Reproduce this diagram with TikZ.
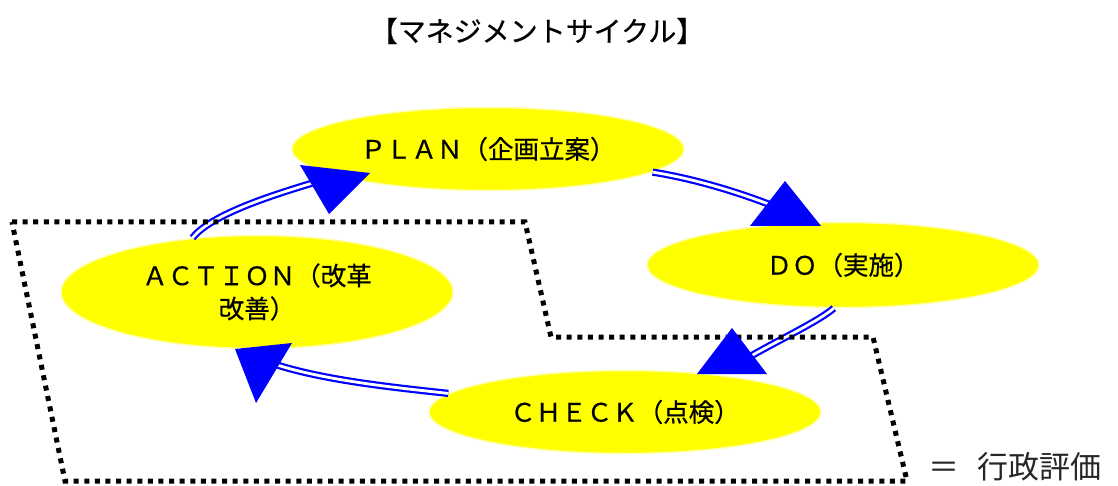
\documentclass[tikz,border=0pt]{standalone}
\usepackage{fontspec}
\setmainfont{Noto Sans CJK JP}
\newfontfamily\medjp{Noto Sans CJK JP}[FakeBold=0.5]
\usetikzlibrary{shapes.geometric}
\definecolor{flowblue}{RGB}{0,0,255}
\definecolor{phasefill}{RGB}{255,255,0}
\definecolor{phaseedge}{RGB}{255,255,170}
\begin{document}
\begin{tikzpicture}[x=1pt,y=-1pt,
  phase/.style={ellipse, fill=phasefill, draw=phaseedge, line width=1.5pt,
    inner sep=0pt, minimum width=392pt, minimum height=83pt,
    font=\medjp\fontsize{25.5}{33}\selectfont, align=center},
  flow/.style={draw=flowblue, line width=2.2pt, double=white, double distance=2.8pt},
  head/.style={fill=flowblue},
  zone/.style={draw=black, line width=5pt, dash pattern=on 5pt off 5.6pt}]
\useasboundingbox[fill=white] (0,0) rectangle (1118,486);

\node[font=\medjp\fontsize{28}{32}\selectfont] (title) at (537,31) {【マネジメントサイクル】};

\node[phase] (plan) at (488,149) {ＰＬＡＮ（企画立案）};
\node[phase, minimum height=85pt] (do) at (843,265) {ＤＯ（実施）};
\node[phase] (check) at (625,412) {ＣＨＥＣＫ（点検）};
\node[phase, minimum height=113pt] (action) at (257,292) {ＡＣＴＩＯＮ（改革\\改善）};

\coordinate (endP) at (316,182);
\coordinate (endD) at (771,205);
\coordinate (endC) at (751,356);
\coordinate (endA) at (274,364);

\draw[flow] (action.140) .. controls (211,214) and (276,194) .. (endP);
\draw[flow] (plan.-8) .. controls (690,178) and (732,190) .. (endD);
\draw[flow] (do.258) .. controls (819,321) and (777,341) .. (endC);
\draw[flow] (check.174) .. controls (400,388) and (326,381) .. (endA);

\draw[zone] (12,222) -- (525,222) -- (551,337) -- (873,337) -- (907,481) -- (65,481) -- cycle;

\fill[head] (300,165) -- (370,173) -- (329,214) -- cycle;
\fill[head] (785,181) -- (750,226) -- (821,226) -- cycle;
\fill[head] (732,328) -- (697,374) -- (767,374) -- cycle;
\fill[head] (235,349) -- (292,343) -- (256,403) -- cycle;

\node[font=\fontsize{31}{36}\selectfont, text=black!85] (eval) at (1015,467) {＝\hspace{0.55em}行政評価};
\end{tikzpicture}
\end{document}
